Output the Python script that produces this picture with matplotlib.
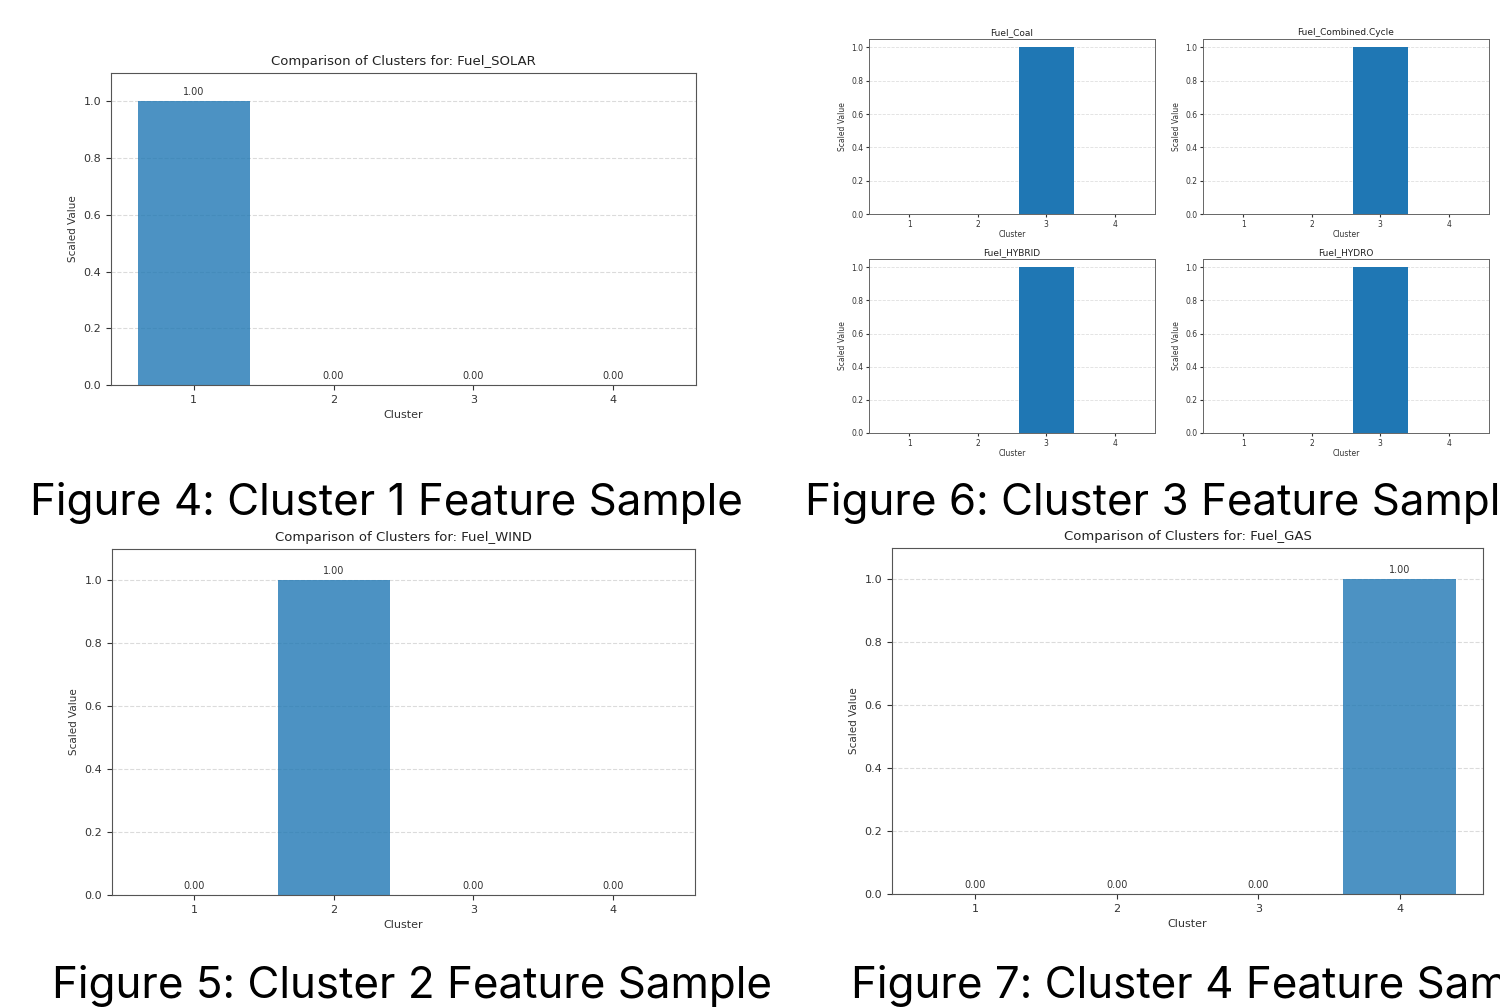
'''
cluster feature comparison figures, rebuilt as one page of bar charts
'''
import matplotlib
matplotlib.use('Agg')
import matplotlib.pyplot as plt
from matplotlib import font_manager
from matplotlib.font_manager import FontProperties
from matplotlib.textpath import TextPath

W, H = 1500, 1008

clusters = [1, 2, 3, 4]

# scaled values per cluster for each fuel feature
fuel_solar = [1.0, 0.0, 0.0, 0.0]
fuel_wind = [0.0, 1.0, 0.0, 0.0]
fuel_gas = [0.0, 0.0, 0.0, 1.0]
fuel_coal = [0.0, 0.0, 1.0, 0.0]
fuel_combined = [0.0, 0.0, 1.0, 0.0]
fuel_hybrid = [0.0, 0.0, 1.0, 0.0]
fuel_hydro = [0.0, 0.0, 1.0, 0.0]

captions = ['Figure 4: Cluster 1 Feature Sample',
            'Figure 6: Cluster 3 Feature Sample',
            'Figure 5: Cluster 2 Feature Sample',
            'Figure 7: Cluster 4 Feature Sample']

CANDIDATES = ['Roboto Condensed', 'Liberation Sans Narrow', 'Open Sans Condensed',
              'Roboto', 'Lato', 'Inter', 'Noto Sans', 'Liberation Sans', 'DejaVu Sans']


def pick_caption_font(sample, target_w, target_h):
    # the captions use a narrow sans; take the installed face whose
    # width / cap-height ratio is closest to the screenshot
    best = None
    entries = [f for f in font_manager.fontManager.ttflist
               if f.name in CANDIDATES and f.style == 'normal'
               and f.weight in (400, 'normal', 'regular')
               and not f.fname.lower().endswith(('.ttc', '.otc'))]
    for f in sorted(entries, key=lambda e: e.fname)[:30]:
        try:
            fp = FontProperties(fname=f.fname)
            w = TextPath((0, 0), sample, size=100, prop=fp).get_extents().width
            h = TextPath((0, 0), 'F', size=100, prop=fp).get_extents().height
        except Exception:
            continue
        if h <= 0:
            continue
        score = abs(w / h - target_w / target_h)
        if best is None or score < best[0]:
            best = (score, fp, w / 100, h / 100)
    if best is None:
        return FontProperties(family='DejaVu Sans'), 30
    _, fp, w1, h1 = best
    # font size in px: mostly match width, a little of the cap height
    px = 0.7 * target_w / w1 + 0.3 * target_h / h1
    return fp, px * 72 / 100


def px_axes(fig, left, top, right, bottom):
    # place an axes using pixel edges of the page
    return fig.add_axes([left / W, 1 - bottom / H, (right - left) / W, (bottom - top) / H])


def big_panel(fig, box, feature, values):
    ax = px_axes(fig, *box)
    ax.bar(clusters, values, color='#1f77b4', alpha=0.8)
    for c, v in zip(clusters, values):
        ax.text(c, v + 0.014, f'{v:.2f}', ha='center', va='bottom', fontsize=7, color='#333333')
    ax.set_ylim(0, 1.1)
    ax.set_xticks(clusters)
    ax.set_title(f'Comparison of Clusters for: {feature}', fontsize=9.5, color='#222222')
    ax.set_xlabel('Cluster', fontsize=8, color='#333333')
    ax.set_ylabel('Scaled Value', fontsize=7.5, color='#333333')
    ax.tick_params(labelsize=8, colors='#333333')
    ax.grid(axis='y', linestyle='--', alpha=0.45)
    ax.set_axisbelow(True)
    for s in ax.spines.values():
        s.set_color('#555555')
    return ax


def small_panel(fig, box, feature, values):
    ax = px_axes(fig, *box)
    ax.bar(clusters, values, color='#1f77b4')
    ax.set_xticks(clusters)
    ax.set_title(feature, fontsize=6.5, pad=3, color='#222222')
    ax.set_xlabel('Cluster', fontsize=5.5, labelpad=1, color='#333333')
    ax.set_ylabel('Scaled Value', fontsize=5.5, labelpad=3, color='#333333')
    ax.tick_params(labelsize=5.5, length=2, pad=2, colors='#333333')
    ax.grid(axis='y', linestyle='--', alpha=0.4, linewidth=0.6)
    ax.set_axisbelow(True)
    for s in ax.spines.values():
        s.set_color('#666666')
        s.set_linewidth(0.7)
    return ax


fig = plt.figure(figsize=(W / 100, H / 100), dpi=100)

big_panel(fig, (111, 73, 696, 385), 'Fuel_SOLAR', fuel_solar)
big_panel(fig, (112, 549, 695, 895), 'Fuel_WIND', fuel_wind)
big_panel(fig, (892, 548, 1483, 894), 'Fuel_GAS', fuel_gas)

small_panel(fig, (869, 39, 1155, 214), 'Fuel_Coal', fuel_coal)
small_panel(fig, (1203, 39, 1489, 214), 'Fuel_Combined.Cycle', fuel_combined)
small_panel(fig, (869, 259, 1155, 433), 'Fuel_HYBRID', fuel_hybrid)
small_panel(fig, (1203, 259, 1489, 433), 'Fuel_HYDRO', fuel_hydro)

# captions under each figure; cap height about 32 px, width about 707 px
cap_fp, cap_size = pick_caption_font(captions[0], 707, 32)
cap_pos = [(30, 515), (805, 515), (52, 998), (851, 998)]
for txt, (x, y) in zip(captions, cap_pos):
    fig.text(x / W, 1 - y / H, txt, fontproperties=cap_fp, fontsize=cap_size,
             ha='left', va='baseline')

fig.savefig('out.png', dpi=100)
